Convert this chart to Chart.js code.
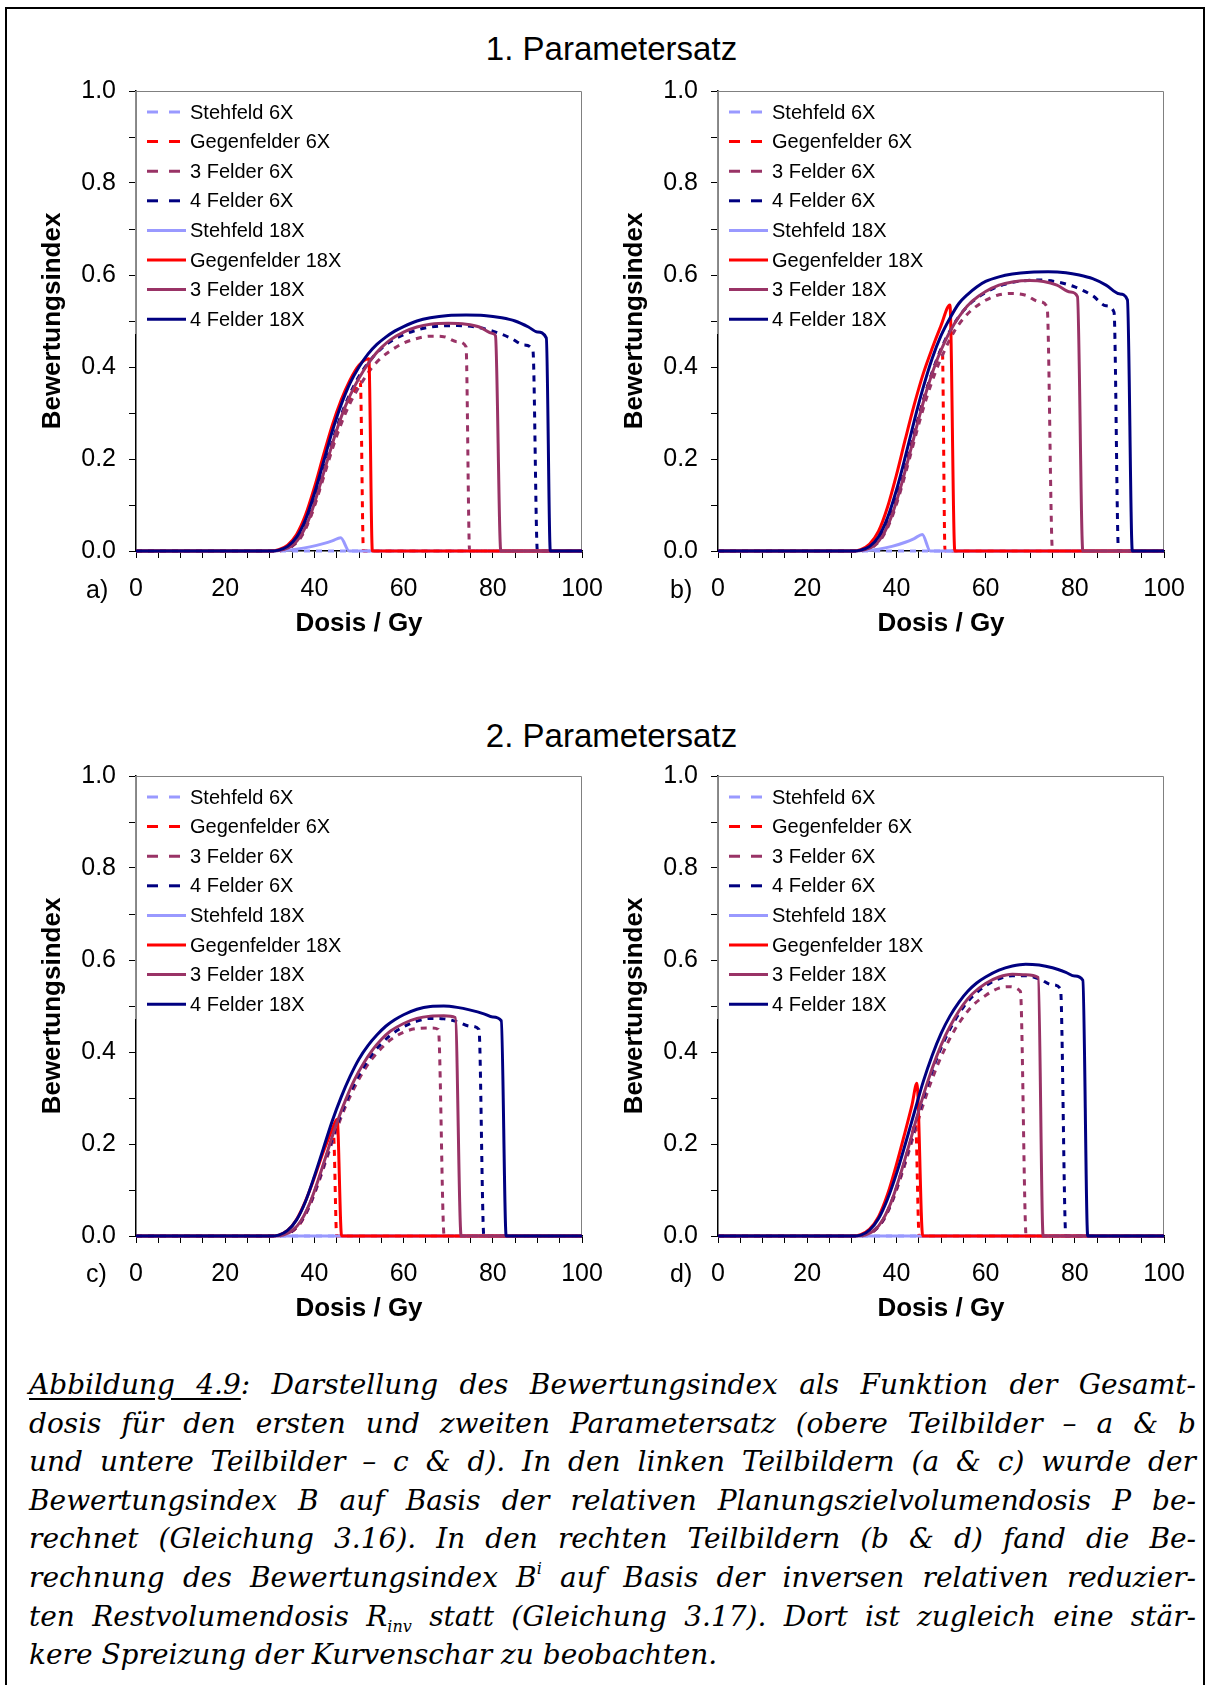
<!DOCTYPE html>
<html>
<head>
<meta charset="utf-8">
<script src="https://cdn.jsdelivr.net/npm/chart.js@4.4.1/dist/chart.umd.min.js"></script>
<style>
  html, body { margin: 0; padding: 0; background: #fff; }
  body { width: 1207px; height: 1685px; position: relative; overflow: hidden; font-family: "Liberation Sans", Arial, sans-serif; color: #000; }
  #frame { position: absolute; left: 5px; top: 7px; width: 1200px; height: 1700px; border: 2px solid #000; box-sizing: border-box; }
  canvas { position: absolute; }
  .title { position: absolute; left: 0; width: 1223px; text-align: center; font-size: 33px; line-height: 40px; }
  .plabel { position: absolute; font-size: 25px; line-height: 30px; }
  #caption { position: absolute; left: 29px; width: 1167px; top: 1366px; font-family: "DejaVu Serif", serif; font-style: italic; font-size: 28px; line-height: 38.6px; }
  #caption div { text-align: justify; text-align-last: justify; height: 38.6px; }
  #caption div.last { text-align-last: left; }
  #caption u { text-underline-offset: 4px; }
  #caption sup { font-size: 16px; vertical-align: 13px; line-height: 0; }
  #caption sub { font-size: 16px; vertical-align: -6px; line-height: 0; }
</style>
</head>
<body>
<div id="frame"></div>

<div class="title" style="top:29px">1. Parametersatz</div>
<div class="title" style="top:716px">2. Parametersatz</div>

<canvas id="chartA" width="620" height="600" style="left:0;top:60px"></canvas>
<canvas id="chartB" width="620" height="600" style="left:582px;top:60px"></canvas>
<canvas id="chartC" width="620" height="600" style="left:0;top:745px"></canvas>
<canvas id="chartD" width="620" height="600" style="left:582px;top:745px"></canvas>

<div class="plabel" style="left:86px;top:574px">a)</div>
<div class="plabel" style="left:670px;top:574px">b)</div>
<div class="plabel" style="left:86px;top:1258px">c)</div>
<div class="plabel" style="left:670px;top:1258px">d)</div>

<div id="caption">
  <div><u>Abbildung 4.9</u>: Darstellung des Bewertungsindex als Funktion der Gesamt-</div>
  <div>dosis für den ersten und zweiten Parametersatz (obere Teilbilder – a &amp; b</div>
  <div>und untere Teilbilder – c &amp; d). In den linken Teilbildern (a &amp; c) wurde der</div>
  <div>Bewertungsindex B auf Basis der relativen Planungszielvolumendosis P be-</div>
  <div>rechnet (Gleichung 3.16). In den rechten Teilbildern (b &amp; d) fand die Be-</div>
  <div>rechnung des Bewertungsindex B<sup>i</sup> auf Basis der inversen relativen reduzier-</div>
  <div>ten Restvolumendosis R<sub>inv</sub> statt (Gleichung 3.17). Dort ist zugleich eine stär-</div>
  <div class="last">kere Spreizung der Kurvenschar zu beobachten.</div>
</div>

<script>
const seriesLabels = ["Stehfeld 6X", "Gegenfelder 6X", "3 Felder 6X", "4 Felder 6X",
  "Stehfeld 18X", "Gegenfelder 18X", "3 Felder 18X", "4 Felder 18X"];
const seriesColors = ["#9999FF", "#FF0000", "#993366", "#000080",
  "#9999FF", "#FF0000", "#993366", "#000080"];
const doseTicks = [0, 20, 40, 60, 80, 100];

// [Dosis in Gy, Bewertungsindex] - panel a (1. Parametersatz, B)
const a_s6 = [[0, 0], [100, 0]];
const a_g6 = [[0, 0], [31, 0], [33, 0.002], [35, 0.011], [37, 0.032], [39, 0.072], [41, 0.13], [43, 0.195], [45, 0.257], [47, 0.308], [49, 0.348], [50.3, 0.368], [51, 0], [100, 0]];
const a_f3_6 = [[0, 0], [31, 0], [33, 0.002], [35, 0.01], [37, 0.03], [39, 0.07], [41, 0.127], [43, 0.19], [45, 0.25], [47, 0.3], [49, 0.34], [51, 0.372], [53, 0.4], [55, 0.42], [57, 0.435], [60, 0.452], [63, 0.462], [66, 0.467], [69, 0.466], [72, 0.455], [74, 0.444], [74.8, 0], [100, 0]];
const a_f4_6 = [[0, 0], [31, 0], [33, 0.003], [35, 0.012], [37, 0.035], [39, 0.078], [41, 0.138], [43, 0.205], [45, 0.268], [47, 0.32], [49, 0.362], [51, 0.395], [53, 0.42], [55, 0.44], [57, 0.455], [60, 0.47], [64, 0.483], [68, 0.489], [72, 0.49], [76, 0.487], [80, 0.478], [84, 0.463], [87, 0.448], [89, 0.436], [90, 0], [100, 0]];
const a_s18 = [[0, 0], [30, 0], [33, 0.001], [36, 0.004], [39, 0.009], [42, 0.016], [44, 0.022], [45.9, 0.029], [47.8, 0], [100, 0]];
const a_g18 = [[0, 0], [30, 0], [32, 0.003], [34, 0.013], [36, 0.036], [38, 0.078], [40, 0.138], [42, 0.207], [44, 0.273], [46, 0.328], [48, 0.372], [50, 0.404], [52.2, 0.418], [53, 0], [100, 0]];
const a_f3_18 = [[0, 0], [31, 0], [33, 0.003], [35, 0.012], [37, 0.034], [39, 0.075], [41, 0.135], [43, 0.2], [45, 0.263], [47, 0.316], [49, 0.358], [51, 0.392], [53, 0.42], [55, 0.442], [57, 0.459], [60, 0.476], [63, 0.487], [66, 0.493], [70, 0.495], [74, 0.493], [77, 0.487], [80, 0.473], [80.6, 0.468], [81.8, 0], [100, 0]];
const a_f4_18 = [[0, 0], [30, 0], [32, 0.002], [34, 0.01], [36, 0.03], [38, 0.068], [40, 0.125], [42, 0.192], [44, 0.26], [46, 0.318], [48, 0.365], [50, 0.4], [52, 0.428], [54, 0.449], [56, 0.465], [58, 0.478], [60, 0.488], [63, 0.5], [66, 0.507], [70, 0.512], [74, 0.513], [78, 0.512], [82, 0.507], [85, 0.5], [88, 0.487], [90, 0.476], [92, 0.463], [92.9, 0], [100, 0]];

// panel b (1. Parametersatz, B^i)
const b_s6 = [[0, 0], [100, 0]];
const b_g6 = [[0, 0], [31, 0], [33, 0.003], [35, 0.013], [37, 0.037], [39, 0.082], [41, 0.145], [43, 0.218], [45, 0.292], [47, 0.358], [49, 0.412], [50.3, 0.44], [50.9, 0], [100, 0]];
const b_f3_6 = [[0, 0], [31, 0], [33, 0.002], [35, 0.011], [37, 0.032], [39, 0.073], [41, 0.133], [43, 0.203], [45, 0.275], [47, 0.34], [49, 0.395], [51, 0.44], [53, 0.478], [55, 0.505], [57, 0.525], [60, 0.545], [63, 0.557], [66, 0.56], [69, 0.556], [72, 0.542], [73.8, 0.53], [75, 0], [100, 0]];
const b_f4_6 = [[0, 0], [31, 0], [33, 0.003], [35, 0.013], [37, 0.036], [39, 0.08], [41, 0.142], [43, 0.215], [45, 0.29], [47, 0.358], [49, 0.415], [51, 0.46], [53, 0.495], [55, 0.522], [57, 0.542], [60, 0.562], [64, 0.579], [68, 0.587], [72, 0.589], [76, 0.585], [80, 0.574], [84, 0.555], [87, 0.533], [88.8, 0.519], [89.8, 0], [100, 0]];
const b_s18 = [[0, 0], [30, 0], [33, 0.001], [36, 0.004], [39, 0.01], [42, 0.019], [44, 0.027], [45.8, 0.036], [47.6, 0], [100, 0]];
const b_g18 = [[0, 0], [30, 0], [32, 0.003], [34, 0.015], [36, 0.043], [38, 0.095], [40, 0.165], [42, 0.243], [44, 0.318], [46, 0.385], [48, 0.44], [50, 0.49], [52, 0.535], [53.1, 0], [100, 0]];
const b_f3_18 = [[0, 0], [31, 0], [33, 0.003], [35, 0.012], [37, 0.035], [39, 0.078], [41, 0.14], [43, 0.212], [45, 0.287], [47, 0.356], [49, 0.413], [51, 0.458], [53, 0.494], [55, 0.522], [57, 0.543], [60, 0.564], [63, 0.578], [66, 0.585], [70, 0.588], [73, 0.586], [76, 0.578], [79, 0.563], [80.6, 0.553], [81.8, 0], [100, 0]];
const b_f4_18 = [[0, 0], [30, 0], [32, 0.002], [34, 0.01], [36, 0.031], [38, 0.072], [40, 0.132], [42, 0.205], [44, 0.283], [46, 0.355], [48, 0.418], [50, 0.468], [52, 0.506], [54, 0.538], [56, 0.558], [58, 0.574], [60, 0.586], [63, 0.596], [66, 0.602], [70, 0.606], [74, 0.607], [78, 0.605], [81, 0.6], [84, 0.592], [87, 0.578], [90, 0.559], [91.8, 0.546], [92.9, 0], [100, 0]];

// panel c (2. Parametersatz, B)
const c_s6 = [[0, 0], [100, 0]];
const c_g6 = [[0, 0], [31, 0], [33, 0.002], [35, 0.01], [37, 0.03], [39, 0.068], [41, 0.12], [43, 0.18], [44.3, 0.217], [45, 0], [100, 0]];
const c_f3_6 = [[0, 0], [31, 0], [33, 0.002], [35, 0.01], [37, 0.03], [39, 0.067], [41, 0.118], [43, 0.175], [45, 0.232], [47, 0.282], [49, 0.323], [51, 0.358], [53, 0.386], [55, 0.408], [57, 0.426], [60, 0.443], [63, 0.451], [66, 0.452], [67.8, 0.449], [69.1, 0], [100, 0]];
const c_f4_6 = [[0, 0], [31, 0], [33, 0.002], [35, 0.011], [37, 0.032], [39, 0.07], [41, 0.123], [43, 0.182], [45, 0.24], [47, 0.29], [49, 0.332], [51, 0.367], [53, 0.396], [55, 0.418], [57, 0.436], [60, 0.455], [63, 0.467], [66, 0.473], [69, 0.472], [72, 0.466], [75, 0.456], [76.9, 0.449], [78, 0], [100, 0]];
const c_s18 = [[0, 0], [100, 0]];
const c_g18 = [[0, 0], [30, 0], [32, 0.002], [34, 0.012], [36, 0.036], [38, 0.076], [40, 0.127], [42, 0.183], [44, 0.232], [45.1, 0.254], [46.1, 0], [100, 0]];
const c_f3_18 = [[0, 0], [31, 0], [33, 0.002], [35, 0.011], [37, 0.033], [39, 0.072], [41, 0.126], [43, 0.186], [45, 0.245], [47, 0.296], [49, 0.34], [51, 0.375], [53, 0.404], [55, 0.427], [57, 0.445], [60, 0.462], [63, 0.473], [66, 0.478], [69, 0.479], [71.6, 0.475], [72.9, 0], [100, 0]];
const c_f4_18 = [[0, 0], [30, 0], [32, 0.002], [34, 0.012], [36, 0.035], [38, 0.075], [40, 0.13], [42, 0.19], [44, 0.25], [46, 0.302], [48, 0.347], [50, 0.385], [52, 0.414], [54, 0.437], [56, 0.456], [58, 0.47], [60, 0.481], [63, 0.493], [66, 0.499], [69, 0.5], [72, 0.497], [75, 0.491], [78, 0.483], [80, 0.476], [81.9, 0.468], [83, 0], [100, 0]];

// panel d (2. Parametersatz, B^i)
const d_s6 = [[0, 0], [100, 0]];
const d_g6 = [[0, 0], [31, 0], [33, 0.002], [35, 0.012], [37, 0.034], [39, 0.075], [41, 0.13], [43, 0.195], [44.3, 0.245], [45.1, 0], [100, 0]];
const d_f3_6 = [[0, 0], [31, 0], [33, 0.002], [35, 0.011], [37, 0.033], [39, 0.073], [41, 0.128], [43, 0.19], [45, 0.255], [47, 0.314], [49, 0.366], [51, 0.41], [53, 0.447], [55, 0.476], [57, 0.5], [60, 0.523], [63, 0.539], [65, 0.542], [67.8, 0.532], [69.1, 0], [100, 0]];
const d_f4_6 = [[0, 0], [31, 0], [33, 0.002], [35, 0.012], [37, 0.035], [39, 0.077], [41, 0.135], [43, 0.2], [45, 0.268], [47, 0.33], [49, 0.385], [51, 0.43], [53, 0.467], [55, 0.497], [57, 0.52], [60, 0.544], [63, 0.559], [66, 0.566], [69, 0.566], [72, 0.559], [75, 0.546], [76.8, 0.537], [78, 0], [100, 0]];
const d_s18 = [[0, 0], [100, 0]];
const d_g18 = [[0, 0], [30, 0], [32, 0.003], [34, 0.015], [36, 0.042], [38, 0.09], [40, 0.155], [42, 0.228], [43.5, 0.285], [44.6, 0.332], [45.9, 0], [100, 0]];
const d_f3_18 = [[0, 0], [31, 0], [33, 0.002], [35, 0.012], [37, 0.036], [39, 0.078], [41, 0.137], [43, 0.203], [45, 0.272], [47, 0.335], [49, 0.39], [51, 0.436], [53, 0.473], [55, 0.503], [57, 0.526], [60, 0.549], [63, 0.563], [66, 0.569], [69, 0.568], [71.8, 0.562], [72.9, 0], [100, 0]];
const d_f4_18 = [[0, 0], [30, 0], [32, 0.002], [34, 0.013], [36, 0.038], [38, 0.08], [40, 0.135], [42, 0.2], [44, 0.268], [46, 0.335], [48, 0.392], [50, 0.44], [52, 0.478], [54, 0.508], [56, 0.532], [58, 0.55], [60, 0.563], [63, 0.578], [66, 0.587], [69, 0.591], [72, 0.589], [75, 0.583], [78, 0.573], [80, 0.565], [81.8, 0.556], [82.9, 0], [100, 0]];

Chart.defaults.font.family = '"Liberation Sans", Arial, sans-serif';
Chart.defaults.color = "#000";

// grey plot border, Excel-like legend inside the plot area
const panelDecor = {
  id: "panelDecor",
  beforeDatasetsDraw(chart) {
    const { ctx, chartArea: a } = chart;
    ctx.save();
    ctx.strokeStyle = "#808080";
    ctx.lineWidth = 1;
    ctx.beginPath();
    ctx.moveTo(a.left, a.top + 0.5);
    ctx.lineTo(a.right - 0.5, a.top + 0.5);
    ctx.lineTo(a.right - 0.5, a.bottom);
    ctx.stroke();
    ctx.restore();
  },
  afterDraw(chart) {
    const { ctx, chartArea: a } = chart;
    ctx.save();
    // upper part of the value axis looks grey in the source (behind the legend)
    ctx.strokeStyle = "#8c8c8c";
    ctx.lineWidth = 1.5;
    ctx.beginPath();
    ctx.moveTo(a.left - 0.25, a.top);
    ctx.lineTo(a.left - 0.25, a.top + 243);
    ctx.stroke();

    ctx.font = '20px "Liberation Sans", Arial, sans-serif';
    ctx.textBaseline = "middle";
    ctx.fillStyle = "#000";
    chart.data.datasets.forEach((ds, i) => {
      const y = a.top + 21 + i * 29.6;
      ctx.strokeStyle = ds.borderColor;
      ctx.lineWidth = 3;
      ctx.setLineDash(ds.dashed ? [11, 11] : []);
      ctx.beginPath();
      ctx.moveTo(a.left + 11, y);
      ctx.lineTo(a.left + 50, y);
      ctx.stroke();
      ctx.fillText(ds.label, a.left + 54, y + 1);
    });
    ctx.restore();
  }
};

function makeChart(canvasId, series) {
  const datasets = series.map((pts, i) => ({
    label: seriesLabels[i],
    data: pts.map(([x, y]) => ({ x, y })),
    borderColor: seriesColors[i],
    borderWidth: 3,
    borderDash: i < 4 ? [6, 6] : [],
    borderCapStyle: "butt",
    dashed: i < 4,
    pointRadius: 0,
    cubicInterpolationMode: "monotone",
    order: series.length - 1 - i, // 4 Felder 18X ends up on top
    clip: 6
  }));

  return new Chart(document.getElementById(canvasId), {
    type: "line",
    data: { datasets },
    options: {
      responsive: false,
      animation: false,
      devicePixelRatio: 1,
      layout: { padding: { left: 0, top: 31, right: 38, bottom: 21 } },
      plugins: { legend: { display: false }, tooltip: { enabled: false } },
      scales: {
        x: {
          type: "linear",
          min: 0,
          max: 100,
          grid: { drawOnChartArea: false, drawTicks: true, tickLength: 7, tickColor: "#000", tickWidth: 1 },
          border: { color: "#000", width: 1.5 },
          ticks: {
            stepSize: 5,
            autoSkip: false,
            maxRotation: 0,
            padding: 16,
            font: { size: 25 },
            callback: (v) => (doseTicks.includes(v) ? String(v) : "")
          },
          title: { display: true, text: "Dosis / Gy", font: { size: 26, weight: "bold" }, padding: { top: 0, bottom: 0 } },
          afterFit(scale) {
            scale.height = 88;
            scale.paddingLeft = 0;
            scale.paddingRight = 0;
          }
        },
        y: {
          min: 0,
          max: 1,
          grid: { drawOnChartArea: false, drawTicks: true, tickLength: 7, tickColor: "#000", tickWidth: 1 },
          border: { color: "#000", width: 1.5 },
          ticks: {
            stepSize: 0.1,
            autoSkip: false,
            padding: 13,
            font: { size: 25 },
            callback: (v, i) => (i % 2 === 0 ? v.toFixed(1) : "")
          },
          title: { display: true, text: "Bewertungsindex", font: { size: 26, weight: "bold" }, padding: { top: 37, bottom: 0 } },
          afterFit(scale) {
            scale.width = 136;
            scale.paddingTop = 0;
            scale.paddingBottom = 0;
          }
        }
      }
    },
    plugins: [panelDecor]
  });
}

makeChart("chartA", [a_s6, a_g6, a_f3_6, a_f4_6, a_s18, a_g18, a_f3_18, a_f4_18]);
makeChart("chartB", [b_s6, b_g6, b_f3_6, b_f4_6, b_s18, b_g18, b_f3_18, b_f4_18]);
makeChart("chartC", [c_s6, c_g6, c_f3_6, c_f4_6, c_s18, c_g18, c_f3_18, c_f4_18]);
makeChart("chartD", [d_s6, d_g6, d_f3_6, d_f4_6, d_s18, d_g18, d_f3_18, d_f4_18]);
</script>
</body>
</html>
